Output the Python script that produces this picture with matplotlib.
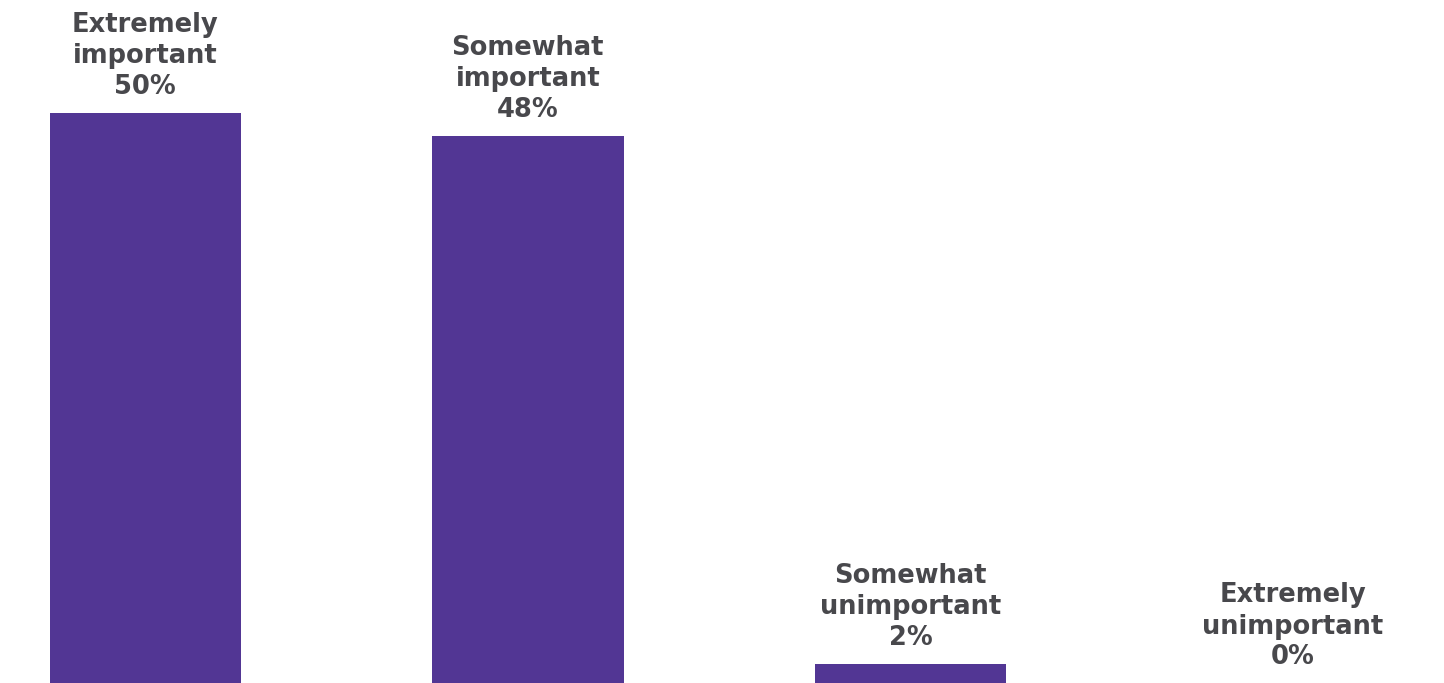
import matplotlib.pyplot as plt

categories = ["Extremely\nimportant", "Somewhat\nimportant", "Somewhat\nunimportant", "Extremely\nunimportant"]
values = [50, 48, 1.7, 0]

bar_color = "#523694"
text_color = "#48484c"

fig = plt.figure(figsize=(14.44, 6.83), dpi=100)
ax = fig.add_axes([0, 0, 1, 1])

x = list(range(len(values)))
ax.bar(x, values, width=0.5, color=bar_color)

for xi, cat, v in zip(x, categories, values):
    ax.annotate(f"{cat}\n{round(v)}%", (xi, v), xytext=(0, 9), textcoords="offset points",
                ha="center", va="bottom", fontsize=18.5, fontweight="bold",
                color=text_color, family="DejaVu Sans", linespacing=1.25)

ax.set_xlim(-0.380, 3.395)
ax.set_ylim(0, 59.9)
ax.axis("off")

fig.savefig("out.png", dpi=100)
